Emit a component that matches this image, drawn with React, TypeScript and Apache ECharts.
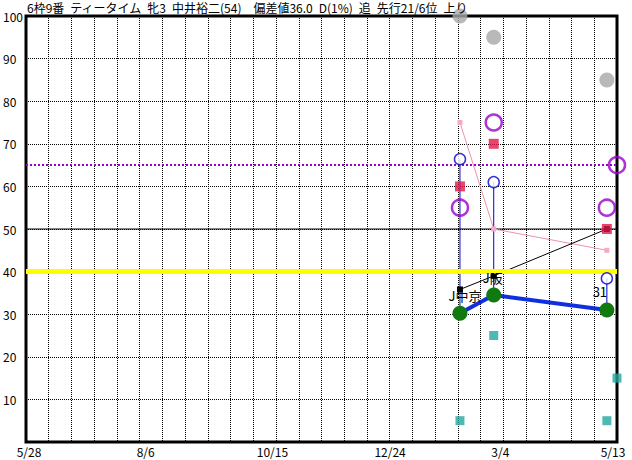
import { useEffect, useRef } from 'react';
import * as echarts from 'echarts';

const titleText = '6枠9番\u2002ティータイム\u2002牝3\u2002中井裕二(54)\u2002\u2002偏差値36.0\u2002D(1%)\u2002追\u2002先行21/6位\u2002上り';
const xTickLabels = ['5/28', '8/6', '10/15', '12/24', '3/4', '5/13'];
const raceDays = [257, 277, 344];
const todayDay = 350;
const grayValues = [100, 95, 85];
const purpleRaceValues = [55, 75, 55];
const purpleToday = 65;
const redValues = [60, 70, 50];
const blueOpenValues = [66.4, 61, 38.4];
const pinkValues = [75, 50, 45];
const blackValues = [35.8, 39, 50];
const greenValues = [30.2, 34.5, 31];
const raceLabels = ['J中京', 'J阪', '31'];
const tealRaceValues = [5, 25, 5];
const tealToday = 15;
const yellowLevel = 40;
const blackLevel = 50;
const purpleLevel = 65;

const FONT = '"Noto Sans CJK JP", "Noto Sans", sans-serif';

const labelPads: number[][] = [
  [0, 0, 0, 6],
  [0, 0, 0, 3],
  [0, 0, 0, 20],
  [0, 0, 0, 19],
  [0, 0, 0, 3],
  [0, 8, 0, 0],
];

const labelOffsets: number[][] = [
  [5, 0],
  [-1, 0],
  [-7, 0],
];

export default function App() {
  const ref = useRef<HTMLDivElement>(null);
  useEffect(() => {
    if (!ref.current) return;
    const chart = echarts.init(ref.current, null, { renderer: 'svg' });
    const rich: Record<string, any> = {};
    labelPads.forEach((p, i) => {
      rich['r' + i] = { padding: p, fontSize: 12, color: '#000', fontFamily: FONT };
    });
    const pts = (vals: number[]) => vals.map((v, i) => [raceDays[i], v]);
    const hline = (lvl: number) => [[0, lvl], [todayDay, lvl]];
    chart.setOption({
      animation: false,
      backgroundColor: '#fff',
      title: {
        text: titleText,
        left: 27,
        top: 1,
        padding: 0,
        textStyle: { fontSize: 12, lineHeight: 13, fontWeight: 'normal', color: '#000', fontFamily: FONT },
      },
      grid: {
        left: 25,
        right: 15,
        top: 16,
        bottom: 18,
        show: true,
        borderColor: '#000',
        borderWidth: 3,
        backgroundColor: 'transparent',
      },
      xAxis: [
        {
          type: 'value',
          min: 0,
          max: 350,
          interval: 70,
          axisLine: { show: false },
          axisTick: { show: false },
          splitLine: { show: false },
          axisLabel: {
            margin: 3,
            showMaxLabel: true,
            showMinLabel: true,
            fontSize: 12,
            color: '#000',
            fontFamily: FONT,
            rich,
            formatter: (v: number) => {
              const i = Math.round(v / 70);
              return `{r${i}|${xTickLabels[i]}}`;
            },
          },
        },
        {
          type: 'value',
          min: 0,
          max: 26,
          interval: 1,
          show: true,
          position: 'bottom',
          axisLine: { show: false },
          axisTick: { show: false },
          axisLabel: { show: false },
          splitLine: { show: true, lineStyle: { color: '#000', width: 1, type: [1, 1] } },
        },
      ],
      yAxis: {
        type: 'value',
        min: 0,
        max: 100,
        interval: 10,
        axisLine: { show: false },
        axisTick: { show: false },
        axisLabel: {
          align: 'left',
          margin: 23,
          fontSize: 12,
          color: '#000',
          fontFamily: FONT,
          showMinLabel: false,
          formatter: (v: number) => (v === 0 ? '' : String(v)),
        },
        splitLine: { show: true, lineStyle: { color: '#000', width: 1, type: [1, 1] } },
      },
      series: [
        {
          type: 'line', z: 2, silent: true, symbol: 'none',
          data: hline(blackLevel),
          lineStyle: { color: '#000', width: 1 },
        },
        {
          type: 'line', z: 2, silent: true, symbol: 'none',
          data: hline(purpleLevel),
          lineStyle: { color: '#9900cc', width: 2, type: [2, 2] },
        },
        {
          type: 'line', z: 2, symbol: 'rect', symbolSize: 5,
          data: pts(pinkValues),
          lineStyle: { color: '#f090b0', width: 1 },
          itemStyle: { color: '#f8a8c8' },
        },
        {
          type: 'line', z: 2, symbol: 'rect', symbolSize: 6,
          data: pts(blackValues),
          lineStyle: { color: '#000', width: 1 },
          itemStyle: { color: '#000' },
        },
        {
          type: 'custom', z: 2,
          data: raceDays.map((d, i) => [d, blueOpenValues[i], greenValues[i]]),
          encode: { x: 0, y: [1, 2] },
          renderItem: (params: any, api: any) => {
            const x = api.value(0);
            const p1 = api.coord([x, api.value(1)]);
            const p2 = api.coord([x, api.value(2)]);
            return {
              type: 'line',
              shape: { x1: p1[0], y1: p1[1], x2: p2[0], y2: p2[1] },
              style: { stroke: '#0000cc', lineWidth: 1 },
            };
          },
        },
        {
          type: 'line', z: 3, silent: true, symbol: 'none',
          data: hline(yellowLevel),
          lineStyle: { color: '#ffff00', width: 5 },
        },
        {
          type: 'line', z: 4, symbol: 'circle', symbolSize: 15,
          data: greenValues.map((v, i) => ({
            value: [raceDays[i], v],
            label: {
              show: true,
              position: 'top',
              distance: 4,
              offset: labelOffsets[i],
              formatter: raceLabels[i],
              fontSize: 13,
              color: '#000',
              fontFamily: FONT,
            },
          })),
          lineStyle: { color: '#1030e0', width: 4 },
          itemStyle: { color: '#107a10' },
        },
        {
          type: 'scatter', z: 5, symbol: 'rect', symbolSize: 10,
          data: pts(redValues),
          itemStyle: { color: '#e0184a' },
        },
        {
          type: 'scatter', z: 5, symbol: 'circle', symbolSize: 11, clip: false,
          data: pts(blueOpenValues),
          itemStyle: { color: '#fff', borderColor: '#0000cc', borderWidth: 1.5 },
        },
        {
          type: 'scatter', z: 5, symbol: 'circle', symbolSize: 16, clip: false,
          data: [...pts(purpleRaceValues), [todayDay, purpleToday]],
          itemStyle: { color: 'transparent', borderColor: '#9900cc', borderWidth: 2.5 },
        },
        {
          type: 'scatter', z: 5, symbol: 'circle', symbolSize: 15, clip: false,
          data: pts(grayValues),
          itemStyle: { color: '#a8a8a8' },
        },
        {
          type: 'scatter', z: 5, symbol: 'rect', symbolSize: 9, clip: false,
          data: [...pts(tealRaceValues), [todayDay, tealToday]],
          itemStyle: { color: '#22a8a0' },
        },
      ],
    });
    return () => chart.dispose();
  }, []);
  return <div ref={ref} style={{ width: 632, height: 460, position: 'fixed', left: 0, top: 0 }} />;
}
